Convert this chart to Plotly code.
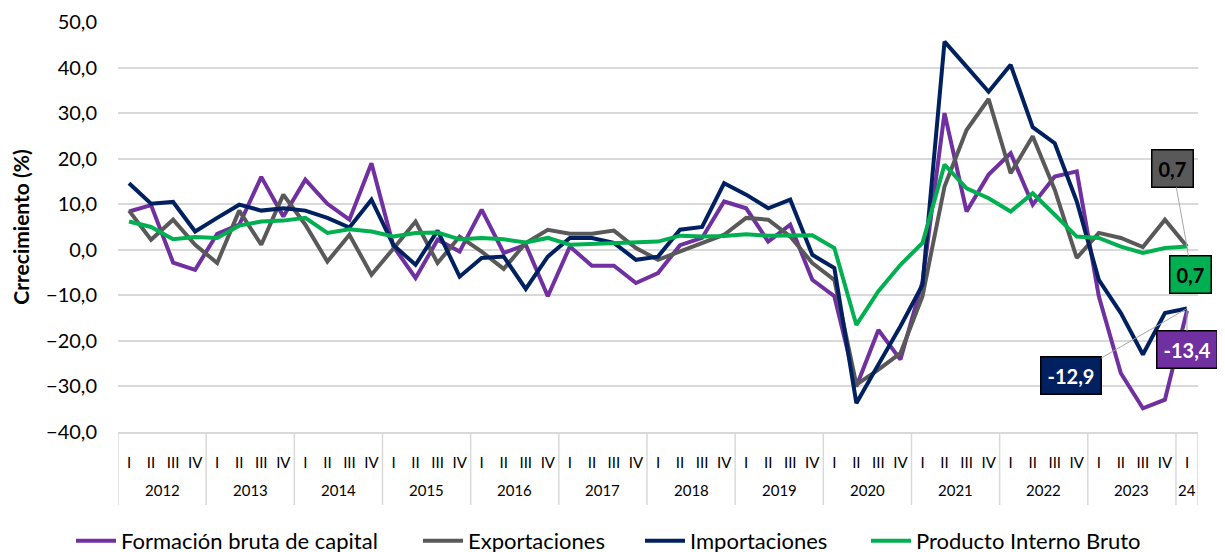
import plotly.graph_objects as go

year_labels = ["2012", "2013", "2014", "2015", "2016", "2017", "2018", "2019",
               "2020", "2021", "2022", "2023", "24"]
quarter_labels = ["I", "II", "III", "IV"]

fbk = [8.4, 9.8, -2.8, -4.4, 3.5, 5.5, 16.0, 7.3, 15.4, 10.1, 6.6, 19.0,
       0.7, -6.2, 2.2, -0.4, 8.8, -0.7, 1.1, -10.2, 0.7, -3.5, -3.5, -7.3,
       -5.1, 1.0, 2.6, 10.6, 9.1, 1.8, 5.5, -6.6, -10.2, -30.0, -17.6, -24.1,
       -7.0, 30.0, 8.4, 16.5, 21.2, 9.9, 16.1, 17.2, -10.2, -27.1, -34.8, -32.9,
       -13.4]
exportaciones = [8.6, 2.2, 6.6, 1.1, -2.9, 8.6, 1.1, 12.1, 5.5, -2.6, 3.3, -5.5,
                 0.3, 6.2, -2.9, 2.9, -0.4, -4.2, 1.5, 4.4, 3.5, 3.5, 4.2, 0.4,
                 -2.2, -0.4, 1.5, 3.3, 7.0, 6.6, 2.9, -2.9, -6.6, -29.6, -26.3, -22.7,
                 -10.2, 13.9, 26.3, 33.1, 16.8, 24.9, 13.2, -1.8, 3.7, 2.6, 0.6, 6.6,
                 0.7]
importaciones = [14.6, 10.1, 10.5, 4.0, 7.0, 9.9, 8.6, 9.1, 8.6, 7.0, 4.9, 11.0,
                 1.0, -3.3, 4.2, -5.9, -1.8, -1.5, -8.6, -1.5, 2.6, 2.6, 1.5, -2.2,
                 -1.5, 4.4, 5.0, 14.6, 12.1, 9.1, 11.0, -1.1, -4.0, -33.7, -25.2, -16.8,
                 -7.7, 45.7, 40.2, 34.7, 40.6, 26.9, 23.4, 10.6, -6.6, -13.9, -23.0, -13.9,
                 -12.9]
pib = [6.2, 5.0, 2.3, 2.8, 2.6, 5.3, 6.2, 6.4, 7.0, 3.7, 4.5, 4.0,
       2.9, 3.7, 3.8, 2.3, 2.6, 2.3, 1.6, 2.6, 1.1, 1.3, 1.6, 1.6,
       1.8, 3.1, 2.9, 3.0, 3.4, 3.1, 3.1, 3.2, 0.4, -16.5, -9.1, -3.3,
       1.5, 18.7, 13.5, 11.3, 8.4, 12.4, 7.7, 2.9, 2.6, 0.7, -0.7, 0.4,
       0.7]

n = len(pib)
x_idx = list(range(n))
x_q = [quarter_labels[i % 4] for i in range(n)]

series = [
    ("Formación bruta de capital", fbk, "#7030A0"),
    ("Exportaciones", exportaciones, "#595959"),
    ("Importaciones", importaciones, "#002060"),
    ("Producto Interno Bruto", pib, "#00B050"),
]

FONT = "Lato"
GRID = "#D9D9D9"
# the page body adds an 8px offset; margins compensate for it
L, R, T, B = 110, 35, 14, 128
PW = 1225 - L - R
PH = 552 - T - B

fig = go.Figure()
legend_ids = ["legend", "legend2", "legend3", "legend4"]
legend_text_px = [123, 470, 692, 918]  # where each legend entry's text starts
for (name, vals, col), lid in zip(series, legend_ids):
    fig.add_trace(go.Scatter(x=x_idx, y=vals, name=name, mode="lines",
                             line=dict(color=col, width=4), hoverinfo="y",
                             legend=lid))

# year group labels and dividers under the quarter labels
for k, yl in enumerate(year_labels):
    start = 4 * k
    end = min(4 * k + 3, n - 1)
    fig.add_annotation(x=(start + end) / 2, y=-58 / PH, xref="x", yref="paper",
                       text=yl, showarrow=False, yanchor="middle",
                       font=dict(family=FONT, size=15, color="#000000"))
    fig.add_shape(type="line", x0=start - 0.5, x1=start - 0.5, y0=0, y1=-73 / PH,
                  xref="x", yref="paper", line=dict(color=GRID, width=1.5))
fig.add_shape(type="line", x0=n - 0.5, x1=n - 0.5, y0=0, y1=-73 / PH,
              xref="x", yref="paper", line=dict(color=GRID, width=1.5))

last = n - 1
labels = [
    (exportaciones, "#595959", "#000000", -14, -78),
    (pib, "#00B050", "#000000", 4, 28),
    (fbk, "#7030A0", "#FFFFFF", 0, 39),
    (importaciones, "#002060", "#FFFFFF", -116, 67),
]
for vals, bg, fc, ax, ay in labels:
    fig.add_annotation(x=last, y=vals[last],
                       text=f"{vals[last]:.1f}".replace(".", ","),
                       showarrow=True, arrowhead=0, arrowwidth=1, arrowcolor="#A6A6A6",
                       ax=ax, ay=ay, standoff=0,
                       bgcolor=bg, bordercolor="#000000", borderwidth=1.5, borderpad=6,
                       font=dict(family=FONT, size=20, color=fc, weight="bold"))

legend_common = dict(orientation="h", xanchor="left", y=-109 / PH, yanchor="middle",
                     font=dict(family=FONT, size=22, color="#000000"),
                     itemwidth=40, bgcolor="rgba(0,0,0,0)")
legends = {}
for lid, tx in zip(legend_ids, legend_text_px):
    legends[lid] = dict(legend_common, x=(tx - 60 - L) / PW)

fig.update_layout(
    width=1225, height=552,
    margin=dict(l=L, r=R, t=T, b=B, autoexpand=False),
    paper_bgcolor="white", plot_bgcolor="white",
    separators=",.",
    font=dict(family=FONT, color="#000000"),
    showlegend=True,
    xaxis=dict(range=[-0.5, n - 0.5], tickvals=x_idx, ticktext=x_q,
               showgrid=False, zeroline=False, showline=True, linecolor=GRID,
               linewidth=1.5, ticks="", tickangle=0, automargin=False,
               ticklabelstandoff=16,
               tickfont=dict(family=FONT, size=15, color="#000000")),
    yaxis=dict(range=[-40, 50], dtick=10, tickformat=".1f", showgrid=True,
               gridcolor=GRID, gridwidth=1.5, zeroline=False, showline=False,
               automargin=False, ticklabelstandoff=20,
               tickfont=dict(family=FONT, size=20, color="#000000"), ticks="",
               title=dict(text="Crrecimiento (%)", standoff=10,
                          font=dict(family=FONT, size=21, color="#000000", weight="bold"))),
    **legends,
)

fig.write_html("out.html")
